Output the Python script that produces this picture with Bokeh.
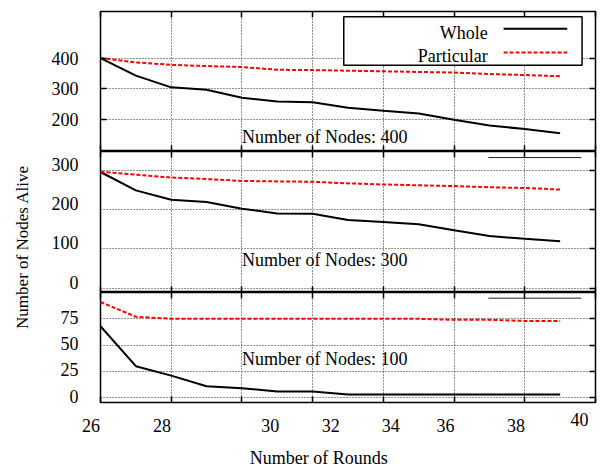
import math
from bokeh.plotting import figure
from bokeh.models import Range1d, FixedTicker, LinearAxis, Label, BoxAnnotation
from bokeh.layouts import row, column
from bokeh.embed import file_html
from bokeh.resources import INLINE

# ---------------- data ----------------
rounds = [26, 27, 28, 29, 30, 31, 32, 33, 34, 35, 36, 37, 38, 39]
whole_400 = [400, 343, 305, 297, 271, 259, 257, 239, 229, 220, 200, 181, 170, 156]
particular_400 = [400, 386, 378, 374, 371, 362, 361, 359, 357, 355, 353, 348, 345, 341]
whole_300 = [297, 250, 226, 220, 203, 191, 190, 174, 169, 163, 148, 133, 126, 120]
particular_300 = [298, 290, 283, 279, 274, 273, 272, 268, 265, 263, 261, 258, 256, 252]
whole_100 = [68, 30, 21, 11, 9, 6, 6, 3, 3, 3, 3, 3, 3, 3]
particular_100 = [91, 77, 75, 75, 75, 75, 75, 75, 75, 75, 74, 74, 73, 73]

series_names = ["Whole", "Particular"]
panel_titles = ["Number of Nodes: 400", "Number of Nodes: 300", "Number of Nodes: 100"]
x_ticks = [26, 28, 30, 32, 34, 36, 38, 40]
x_tick_labels = ["26", "28", "30", "32", "34", "36", "38", "40"]
y_ticks_400 = [200, 300, 400]
y_ticks_300 = [0, 100, 200, 300]
y_ticks_100 = [0, 25, 50, 75]
x_title = "Number of Rounds"
y_title = "Number of Nodes Alive"

# ---------------- style ----------------
FONT = "Liberation Serif"
FS = "18px"
PX_PER_ROUND = 495 / 14.0
# where the reference places its bottom tick labels (x in rounds, y in px from strip bottom)
x_tick_label_x = [25.73, 27.74, 30.80, 32.51, 34.21, 35.76, 37.75, 39.55]
x_tick_label_y = [41, 41, 41, 41, 41, 41, 41, 47]


def style_axis(ax, ticks, show_labels=False, standoff=0, tick_marks=True):
    ax.ticker = FixedTicker(ticks=ticks)
    ax.axis_line_color = None
    ax.major_tick_in = 6 if tick_marks else 0
    ax.major_tick_out = 0
    ax.major_tick_line_color = "black" if tick_marks else None
    ax.major_tick_line_width = 1.5
    ax.minor_tick_line_color = None
    if show_labels:
        ax.major_label_text_font = FONT
        ax.major_label_text_font_size = FS
        ax.major_label_text_color = "black"
        ax.major_label_standoff = standoff
    else:
        ax.major_label_text_font_size = "0px"
        ax.major_label_standoff = 0
        ax.major_label_overrides = {t: "" for t in ticks}


def make_panel(height, yr, yticks, whole, particular, title, title_y, btop, bbottom=0,
               label_shift_px=0.0):
    p = figure(width=560, height=height, x_range=Range1d(26, 40), y_range=Range1d(*yr),
               output_backend="svg", toolbar_location=None,
               min_border_left=60, min_border_right=5,
               min_border_top=btop, min_border_bottom=bbottom)
    p.outline_line_color = "black"
    p.outline_line_width = 1.5
    p.outline_line_alpha = 1
    p.background_fill_color = "white"
    p.border_fill_color = "white"

    style_axis(p.xaxis[0], x_ticks)
    if label_shift_px:
        # the reference sets these tick labels a little above their grid lines
        units_per_px = (yr[1] - yr[0]) / (height - btop - bbottom)
        d = label_shift_px * units_per_px
        p.extra_y_ranges = {"lab": Range1d(yr[0] - d, yr[1] - d)}
        p.yaxis[0].y_range_name = "lab"
        style_axis(p.yaxis[0], yticks, show_labels=True, standoff=22, tick_marks=False)
    else:
        style_axis(p.yaxis[0], yticks, show_labels=True, standoff=22)
    top_ax = LinearAxis()
    style_axis(top_ax, x_ticks)
    p.add_layout(top_ax, "above")
    right_ax = LinearAxis()
    style_axis(right_ax, yticks)
    p.add_layout(right_ax, "right")

    p.xgrid.ticker = FixedTicker(ticks=x_ticks)
    p.ygrid.ticker = FixedTicker(ticks=yticks)
    for g in (p.xgrid[0], p.ygrid[0]):
        g.grid_line_color = "#222222"
        g.grid_line_dash = "1 2"
        g.grid_line_width = 1
        g.grid_line_alpha = 1

    p.line(rounds, whole, line_color="black", line_width=2)
    p.line(rounds, particular, line_color="#ff0000", line_width=2, line_dash="4 2")

    p.add_layout(Label(x=30, y=title_y, text=title, text_align="left",
                       text_baseline="alphabetic", text_font=FONT,
                       text_font_size=FS, text_color="black"))
    return p


f1 = make_panel(151, (97, 551), y_ticks_400, whole_400, particular_400,
                panel_titles[0], 145, 11)
f2 = make_panel(141, (-11.5, 349.5), y_ticks_300, whole_300, particular_300,
                panel_titles[1], 71, 0, label_shift_px=6)
f3 = make_panel(116, (-4.5, 100), y_ticks_100, whole_100, particular_100,
                panel_titles[2], 37, 0, bbottom=6, label_shift_px=1.5)

# legend (panel 1), label first and sample line after it, as in the reference
f1.add_layout(BoxAnnotation(left=32.88, right=39.62, bottom=377, top=534,
                            fill_color="white", fill_alpha=1,
                            line_color="black", line_width=1.5, line_alpha=1))
f1.add_layout(Label(x=36.95, y=481, text=series_names[0], text_align="right",
                    text_baseline="alphabetic", text_font=FONT, text_font_size=FS,
                    text_color="black", level="overlay"))
f1.add_layout(Label(x=36.95, y=407.5, text=series_names[1], text_align="right",
                    text_baseline="alphabetic", text_font=FONT, text_font_size=FS,
                    text_color="black", level="overlay"))
f1.line([37.40, 39.20], [495, 495], line_color="black", line_width=2, level="overlay")
f1.line([37.40, 39.20], [418, 418], line_color="#ff0000", line_width=2,
        line_dash="4 2", level="overlay")

# leftover key lines in the lower panels
f2.line([36.97, 39.60], [334, 334], line_color="#222222", line_width=1)
f3.line([36.97, 39.60], [94.6, 94.6], line_color="#222222", line_width=1)

# bottom strip across the whole width, with the x tick labels and the x title
# (its frame spans the full 600 px; same horizontal scale as the panels)
strip = figure(width=600, height=58,
               x_range=Range1d(26 - 100 / PX_PER_ROUND, 40 + 5 / PX_PER_ROUND),
               y_range=Range1d(0, 58), x_axis_type=None, y_axis_type=None,
               output_backend="svg", toolbar_location=None, min_border=0)
strip.outline_line_color = None
for lx, ly, lt in zip(x_tick_label_x, x_tick_label_y, x_tick_labels):
    strip.add_layout(Label(x=lx, y=ly, text=lt, text_align="center",
                           text_baseline="alphabetic", text_font=FONT,
                           text_font_size=FS, text_color="black"))
strip.add_layout(Label(x=32.17, y=9, text=x_title, text_align="center",
                       text_baseline="alphabetic", text_font=FONT,
                       text_font_size=FS, text_color="black"))

# y title in a narrow strip on the left
lab = figure(width=40, height=408, x_range=Range1d(0, 40), y_range=Range1d(0, 408),
             x_axis_type=None, y_axis_type=None, output_backend="svg",
             toolbar_location=None, min_border=0)
lab.outline_line_color = None
lab.add_layout(Label(x=22, y=161.5, text=y_title, angle=math.pi / 2,
                     text_align="center", text_baseline="middle", text_font=FONT,
                     text_font_size="17px", text_color="black"))

layout = column(row(lab, column(f1, f2, f3, spacing=0), spacing=0), strip, spacing=0)
open("out.html", "w").write(file_html(layout, INLINE))
